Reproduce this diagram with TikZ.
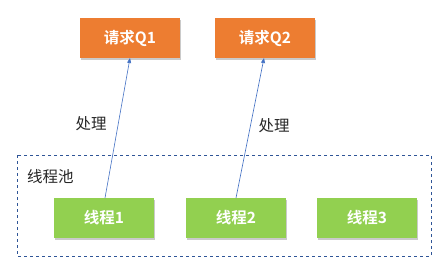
\documentclass[tikz,border=0pt]{standalone}
\usepackage{fontspec}
\newfontfamily\cjk{Noto Sans CJK SC}
\newfontfamily\cjkb{Noto Sans CJK SC Bold}
\usetikzlibrary{shadows,arrows.meta}
\definecolor{qorange}{HTML}{ED7D31}
\definecolor{tgreen}{HTML}{92D050}
\definecolor{lblue}{HTML}{4472C4}
\definecolor{dblue}{HTML}{2F5597}
\tikzset{
  box/.style={minimum width=100pt, minimum height=40pt, inner sep=0pt, text=white,
    font=\cjkb\fontsize{15.5}{17}\selectfont,
    drop shadow={shadow xshift=1pt, shadow yshift=-2pt, fill=black!35, opacity=0.6}},
  qbox/.style={box, fill=qorange},
  tbox/.style={box, fill=tgreen},
  lbl/.style={font=\cjk\fontsize{15.5}{17}\selectfont, text=black!85},
  conn/.style={lblue, line width=0.6pt, -{Triangle[length=5pt,width=4pt]}}
}
\begin{document}
\begin{tikzpicture}[x=1pt,y=-1pt]
\useasboundingbox (0,0) rectangle (448,268);
\draw[dblue, dashed, line width=0.6pt] (17,155) rectangle (431,256);
\node[lbl, anchor=west, inner sep=0pt] (pool) at (27,177) {线程池};
\node[qbox] (q1) at (130,38) {请求Q1};
\node[qbox] (q2) at (265,38) {请求Q2};
\node[tbox] (t1) at (104,218) {线程1};
\node[tbox] (t2) at (236,218) {线程2};
\node[tbox] (t3) at (367,218) {线程3};
\coordinate (s1) at (105,198);
\coordinate (e1) at (130,58);
\coordinate (s2) at (236,198);
\coordinate (e2) at (264,58);
\draw[conn] (s1) -- (e1);
\draw[conn] (s2) -- (e2);
\node[lbl] (l1) at (91,124) {处理};
\node[lbl] (l2) at (274,126) {处理};
\end{tikzpicture}
\end{document}
